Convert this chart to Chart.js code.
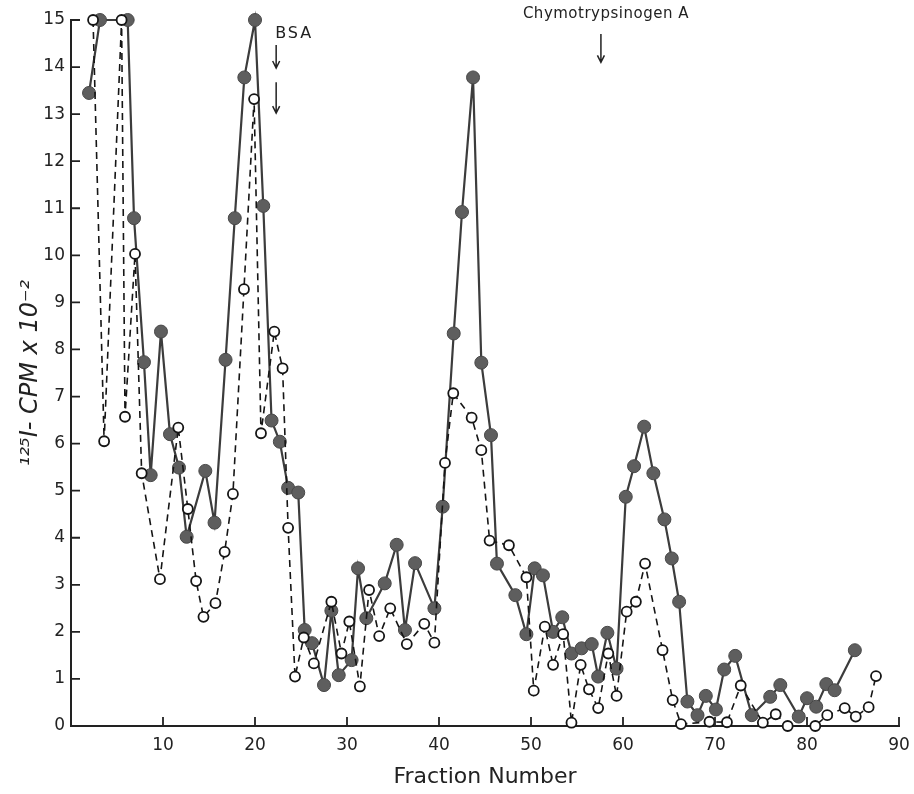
<!DOCTYPE html>
<html><head><meta charset="utf-8">
<script src="https://cdn.jsdelivr.net/npm/chart.js@4"></script>
<style>html,body{margin:0;padding:0;background:#fff}#wrap{width:914px;height:794px;position:relative}</style>
</head><body><div id="wrap"><canvas id="c" width="914" height="794"></canvas></div>
<script>
// Filled circles, solid line
const solidX = [1.96,3.15,6.16,6.85,7.93,8.66,9.78,10.76,11.74,12.57,14.6,15.6,16.8,17.8,18.84,20.0,20.9,21.8,22.7,23.6,24.7,25.4,26.2,27.5,28.3,29.1,30.5,31.2,32.1,34.1,35.4,36.3,37.4,39.5,40.4,41.6,42.5,43.7,44.6,45.65,46.3,48.3,49.5,50.4,51.3,52.4,53.4,54.4,55.5,56.6,57.3,58.3,59.3,60.3,61.2,62.3,63.3,64.5,65.3,66.1,67.0,68.1,69.0,70.1,71.0,72.2,74.0,76.0,77.1,79.1,80.0,81.0,82.1,83.0,85.2];
const solidY = [13.45,15,15,10.79,7.73,5.33,8.38,6.2,5.49,4.02,5.42,4.32,7.78,10.79,13.78,15,11.05,6.49,6.04,5.06,4.96,2.04,1.76,0.87,2.45,1.08,1.4,3.35,2.29,3.03,3.85,2.04,3.46,2.5,4.66,8.34,10.92,13.78,7.72,6.18,3.45,2.78,1.95,3.35,3.2,2.0,2.31,1.54,1.65,1.74,1.05,1.98,1.22,4.87,5.52,6.36,5.37,4.39,3.56,2.64,0.52,0.23,0.64,0.35,1.2,1.49,0.23,0.62,0.87,0.2,0.59,0.41,0.89,0.76,1.61];
// Open circles, dashed line
const openX = [2.4,3.6,5.5,5.87,6.96,7.68,9.67,11.66,12.7,13.6,14.4,15.7,16.7,17.6,18.8,19.9,20.65,22.1,23.0,23.6,24.35,25.3,26.4,28.3,29.4,30.25,31.4,32.4,33.5,34.7,36.5,38.4,39.5,40.65,41.55,43.55,44.6,45.5,47.6,49.5,50.3,51.5,52.4,53.5,54.4,55.4,56.3,57.3,58.4,59.3,60.4,61.4,62.4,64.3,65.4,66.3,69.4,71.3,72.8,75.2,76.6,77.9,80.9,82.2,84.1,85.3,86.7,87.5];
const openY = [15,6.05,15,6.57,10.03,5.37,3.12,6.34,4.61,3.08,2.32,2.61,3.7,4.93,9.28,13.32,6.22,8.38,7.6,4.21,1.05,1.88,1.33,2.64,1.54,2.22,0.84,2.89,1.91,2.5,1.74,2.17,1.77,5.59,7.07,6.55,5.86,3.94,3.84,3.16,0.75,2.11,1.3,1.95,0.07,1.3,0.78,0.38,1.54,0.64,2.43,2.64,3.45,1.61,0.55,0.04,0.09,0.08,0.86,0.07,0.25,0.0,0.0,0.23,0.38,0.2,0.4,1.06];
const xTickValues = [10,20,30,40,50,60,70,80,90];
const yTickValues = [0,1,2,3,4,5,6,7,8,9,10,11,12,13,14,15];
const markerLabels = ['BSA','Chymotrypsinogen A'];
const markerX = [22.3, 57.6];

const ink = '#222';
const pts = (xs, ys) => xs.map((x, i) => ({x: x, y: ys[i]}));

const inwardTicks = {
  id: 'inwardTicks',
  afterDatasetsDraw(chart) {
    const {ctx, chartArea: a, scales: {x, y}} = chart;
    ctx.save();
    ctx.strokeStyle = ink; ctx.lineWidth = 1.8;
    ctx.beginPath();
    x.ticks.forEach(t => { const px = x.getPixelForValue(t.value); ctx.moveTo(px, a.bottom); ctx.lineTo(px, a.bottom - 9); });
    y.ticks.forEach(t => { const py = y.getPixelForValue(t.value); ctx.moveTo(a.left, py); ctx.lineTo(a.left + 9, py); });
    ctx.stroke();
    ctx.restore();
  }
};

function arrow(ctx, px, y1, y2) {
  ctx.beginPath();
  ctx.moveTo(px, y1); ctx.lineTo(px, y2);
  ctx.moveTo(px - 3.5, y2 - 7); ctx.lineTo(px, y2); ctx.lineTo(px + 3.5, y2 - 7);
  ctx.stroke();
}

const markers = {
  id: 'markers',
  afterDraw(chart) {
    const {ctx, scales: {x, y}} = chart;
    ctx.save();
    ctx.fillStyle = ink; ctx.strokeStyle = ink; ctx.lineWidth = 1.5;
    ctx.textBaseline = 'middle';
    // BSA
    const bx = x.getPixelForValue(markerX[0]);
    ctx.font = '16px "DejaVu Sans"';
    ctx.textAlign = 'left';
    ctx.letterSpacing = '2px';
    ctx.fillText(markerLabels[0], bx - 1, y.getPixelForValue(14.70));
    arrow(ctx, bx, y.getPixelForValue(14.47), y.getPixelForValue(13.98));
    arrow(ctx, bx, y.getPixelForValue(13.68), y.getPixelForValue(13.02));
    // Chymotrypsinogen A
    const cx = x.getPixelForValue(markerX[1]);
    ctx.font = '15px "DejaVu Sans"';
    ctx.letterSpacing = '0.5px';
    ctx.textAlign = 'center';
    ctx.fillText(markerLabels[1], cx + 5, y.getPixelForValue(15.13));
    arrow(ctx, cx, y.getPixelForValue(14.70), y.getPixelForValue(14.10));
    ctx.restore();
  }
};

new Chart(document.getElementById('c'), {
  type: 'scatter',
  data: {
    datasets: [
      {
        label: 'open', data: pts(openX, openY), showLine: true, order: 0, clip: false,
        borderColor: '#151515', borderWidth: 1.6, borderDash: [7, 5],
        pointRadius: 5, pointBorderWidth: 1.8, pointBackgroundColor: '#fff', pointBorderColor: '#151515'
      },
      {
        label: 'filled', data: pts(solidX, solidY), showLine: true, order: 1, clip: false,
        borderColor: '#3c3c3c', borderWidth: 2.2,
        pointRadius: 6.5, pointBorderWidth: 1, pointBackgroundColor: '#5e5e5e', pointBorderColor: '#484848'
      }
    ]
  },
  options: {
    responsive: false, animation: false, devicePixelRatio: 1,
    layout: {padding: {left: 0, right: 15, top: 20, bottom: 0}},
    plugins: {legend: {display: false}, tooltip: {enabled: false}},
    scales: {
      x: {
        type: 'linear', min: 0, max: 90,
        afterFit: s => { s.height = 68; s.paddingLeft = 0; s.paddingRight = 0; },
        afterBuildTicks: s => { s.ticks = xTickValues.map(v => ({value: v})); },
        ticks: {autoSkip: false, maxRotation: 0, padding: 9, color: ink, font: {family: 'DejaVu Sans', size: 17}},
        grid: {drawOnChartArea: false, drawTicks: false},
        border: {display: true, color: ink, width: 2},
        title: {display: true, text: 'Fraction Number', color: ink, font: {family: 'DejaVu Sans', size: 22}, padding: {top: 0, bottom: 4}}
      },
      y: {
        type: 'linear', min: 0, max: 15,
        afterFit: s => { s.width = 71; s.paddingTop = 0; s.paddingBottom = 0; },
        afterBuildTicks: s => { s.ticks = yTickValues.map(v => ({value: v})); },
        ticks: {autoSkip: false, padding: 6, color: ink, font: {family: 'DejaVu Sans', size: 17}},
        grid: {drawOnChartArea: false, drawTicks: false},
        border: {display: true, color: ink, width: 2},
        title: {display: true, text: '¹²⁵I- CPM x 10⁻²', color: ink, font: {family: 'DejaVu Sans', size: 24, style: 'italic'}, padding: {top: 16, bottom: 0}}
      }
    }
  },
  plugins: [inwardTicks, markers]
});
</script>
</body></html>
